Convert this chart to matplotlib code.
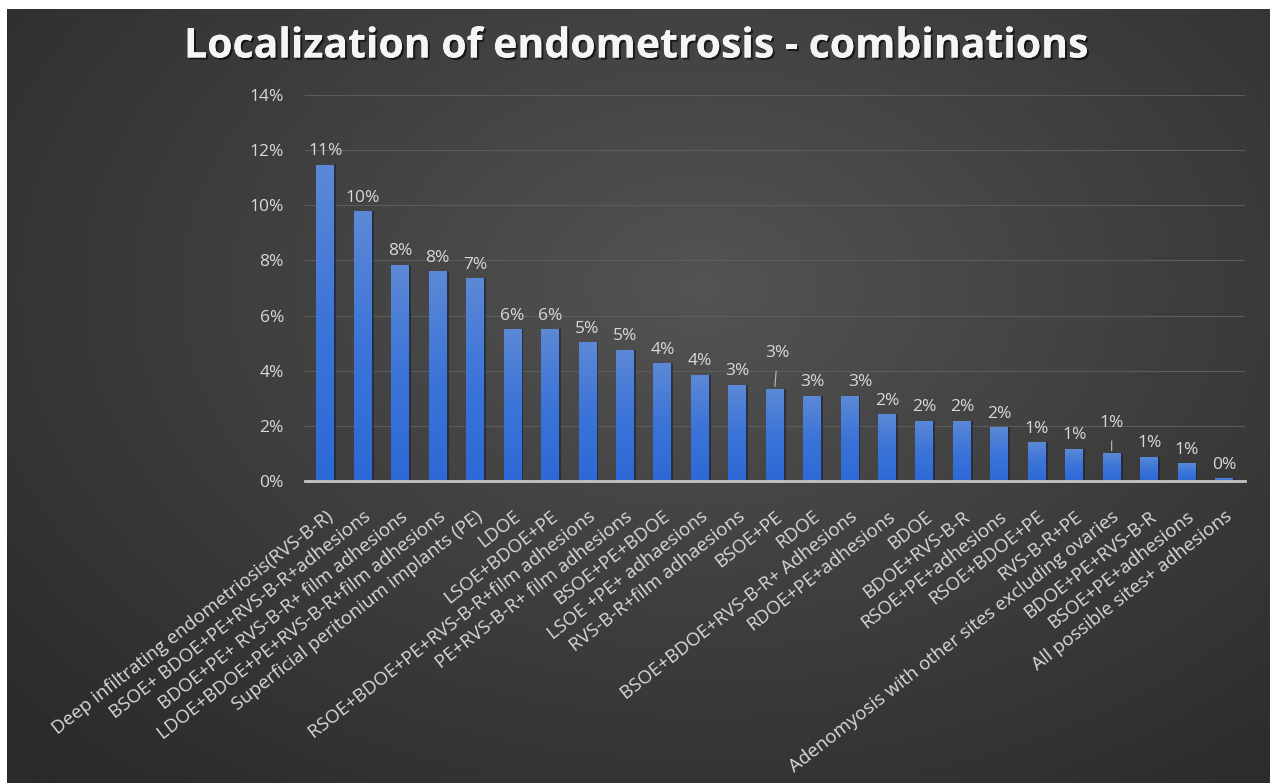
import numpy as np
import matplotlib.pyplot as plt
import matplotlib.patheffects as pe
from matplotlib.colors import LinearSegmentedColormap
from matplotlib.ticker import PercentFormatter

categories = [
    "Deep infiltrating endometriosis(RVS-B-R)",
    "BSOE+ BDOE+PE+RVS-B-R+adhesions",
    "BDOE+PE+ RVS-B-R+ film adhesions",
    "LDOE+BDOE+PE+RVS-B-R+film adhesions",
    "Superficial peritonium implants (PE)",
    "LDOE",
    "LSOE+BDOE+PE",
    "RSOE+BDOE+PE+RVS-B-R+film adhesions",
    "PE+RVS-B-R+ film adhesions",
    "BSOE+PE+BDOE",
    "LSOE +PE+ adhaesions",
    "RVS-B-R+film adhaesions",
    "BSOE+PE",
    "RDOE",
    "BSOE+BDOE+RVS-B-R+ Adhesions",
    "RDOE+PE+adhesions",
    "BDOE",
    "BDOE+RVS-B-R",
    "RSOE+PE+adhesions",
    "RSOE+BDOE+PE",
    "RVS-B-R+PE",
    "Adenomyosis with other sites excluding ovaries",
    "BDOE+PE+RVS-B-R",
    "BSOE+PE+adhesions",
    "All possible sites+ adhesions",
]
# share of patients, percent
shares = [11.47, 9.78, 7.84, 7.60, 7.36, 5.51, 5.51, 5.03, 4.75, 4.27, 3.85, 3.48,
          3.33, 3.09, 3.09, 2.42, 2.18, 2.18, 1.95, 1.40, 1.16, 1.00, 0.88, 0.64, 0.10]
yticks = [0, 2, 4, 6, 8, 10, 12, 14]

# a few data labels sit off their default spot (points), some with a leader line
label_nudge = {12: (2, 16), 14: (8, 0), 21: (0, 12)}

txt = "#d9d9d9"
font = "Open Sans"

fig = plt.figure(figsize=(12.7, 7.83), dpi=100)
fig.patch.set_facecolor("white")

# dark radial background panel
bg = fig.add_axes([7 / 1270, 0, 1 - 7 / 1270, 1 - 9 / 783])
bg.set_axis_off()
yy, xx = np.mgrid[0:1:400j, 0:1:600j]
r = np.sqrt(((xx - 0.55) / 0.75) ** 2 + ((yy - 0.36) / 0.85) ** 2)
r = np.clip(r, 0, 1)
bg_cmap = LinearSegmentedColormap.from_list("bg", ["#535353", "#3e3e3e", "#2a2a2a"])
bg.imshow(r, cmap=bg_cmap, aspect="auto", extent=(0, 1, 0, 1), origin="upper", vmin=0, vmax=1)
bg.set_xlim(0, 1)
bg.set_ylim(0, 1)

ax = fig.add_axes([0.240, 0.3857, 0.740, 0.493])
ax.patch.set_alpha(0)

x = np.arange(len(categories))
w = 0.48
# soft shadow behind the bars
ax.bar(x + 0.05, shares, width=w, color="#15203a", alpha=0.6, zorder=2)
bars = ax.bar(x, shares, width=w, color="#3f74d4", zorder=3)

bar_cmap = LinearSegmentedColormap.from_list("bar", ["#2d69d6", "#3c74d8", "#5c89d6"])
grad = np.linspace(0, 1, 100).reshape(-1, 1)
for b in bars:
    x0 = b.get_x()
    h = b.get_height()
    im = ax.imshow(grad, cmap=bar_cmap, aspect="auto", origin="lower",
                   extent=(x0, x0 + b.get_width(), 0, h), zorder=3.5)
    im.set_clip_path(b)

for i, (b, v) in enumerate(zip(bars, shares)):
    dx, dy = label_nudge.get(i, (0, 0))
    xc = b.get_x() + b.get_width() / 2
    ax.annotate(f"{v:.0f}%", (xc, v), xytext=(dx, 4 + dy), textcoords="offset points",
                ha="center", va="bottom", color=txt, fontsize=12.5, family=font, zorder=5)
    if dy > 6:
        ax.annotate("", (xc, v), xytext=(dx * 0.6, dy - 1), textcoords="offset points",
                    arrowprops=dict(arrowstyle="-", color="#bfbfbf", lw=0.8), zorder=5)

ax.set_xlim(-0.55, len(categories) - 0.45)
ax.set_ylim(0, 14)
ax.set_yticks(yticks)
ax.yaxis.set_major_formatter(PercentFormatter(decimals=0))
ax.grid(axis="y", color="#5c5c5c", linewidth=0.8, zorder=0)
ax.set_axisbelow(True)
for s in ["top", "right", "left"]:
    ax.spines[s].set_visible(False)
ax.spines["bottom"].set_color("#c4c4c4")
ax.spines["bottom"].set_linewidth(2)
ax.spines["bottom"].set_zorder(4)

ax.set_xticks(x)
ax.set_xticklabels(categories, rotation=38, ha="right", rotation_mode="anchor",
                   color=txt, fontsize=13.5, family=font)
ax.tick_params(axis="x", length=0, pad=19)
ax.tick_params(axis="y", length=0, pad=15, labelcolor=txt, labelsize=12.5)
for t in ax.get_yticklabels():
    t.set_family(font)

fig.text(0.502, 0.940, "Localization of endometrosis - combinations", ha="center", va="center",
         color="#f5f5f5", fontsize=29.5, fontweight="bold", family=font,
         path_effects=[pe.withSimplePatchShadow(offset=(1.5, -1.5), shadow_rgbFace="black", alpha=0.6),
                       pe.Normal()])

fig.savefig("out.png", dpi=100, facecolor=fig.get_facecolor())
